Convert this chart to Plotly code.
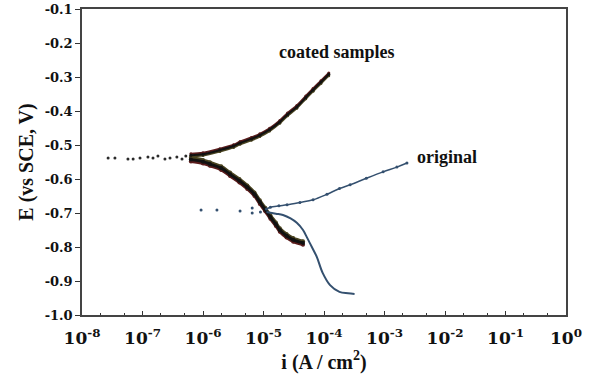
import plotly.graph_objects as go

# ---- data (current density A/cm2, potential V vs SCE) ----
coated_scatter_i = [2.7e-8, 3.5e-8, 5.75e-8, 7.0e-8, 9.1e-8, 1.23e-7, 1.49e-7, 1.8e-7,
                    2.35e-7, 2.85e-7, 3.7e-7, 4.5e-7, 5.2e-7]
coated_scatter_E = [-0.538, -0.538, -0.541, -0.541, -0.538, -0.535, -0.538, -0.532,
                    -0.541, -0.538, -0.535, -0.541, -0.532]

coated_anodic_i = [6.3e-7, 1.0e-6, 1.9e-6, 3.2e-6, 4.1e-6, 6.3e-6, 8.7e-6, 1.26e-5,
                   1.86e-5, 2.5e-5, 3.55e-5, 5.0e-5, 6.6e-5, 8.9e-5, 1.2e-4]
coated_anodic_E = [-0.530, -0.527, -0.515, -0.503, -0.494, -0.482, -0.471, -0.455,
                   -0.432, -0.410, -0.388, -0.360, -0.338, -0.315, -0.292]

coated_cathodic_i = [6.3e-7, 1.0e-6, 1.3e-6, 2.0e-6, 2.8e-6, 4.0e-6, 5.4e-6, 7.1e-6,
                     8.7e-6, 1.07e-5, 1.3e-5, 1.6e-5, 1.86e-5, 2.4e-5, 3.1e-5, 4.5e-5]
coated_cathodic_E = [-0.543, -0.549, -0.556, -0.568, -0.586, -0.605, -0.624, -0.645,
                     -0.668, -0.690, -0.712, -0.733, -0.750, -0.767, -0.779, -0.788]

orig_scatter_i = [9.3e-7, 1.7e-6, 4.1e-6, 6.5e-6, 6.5e-6, 8.9e-6]
orig_scatter_E = [-0.691, -0.691, -0.694, -0.685, -0.700, -0.697]

orig_anodic_i = [1.12e-5, 1.3e-5, 1.8e-5, 2.45e-5, 4.0e-5, 6.6e-5, 1.12e-4, 1.8e-4,
                 2.7e-4, 5.0e-4, 9.5e-4, 1.6e-3, 2.35e-3]
orig_anodic_E = [-0.688, -0.683, -0.679, -0.676, -0.669, -0.661, -0.645, -0.628,
                 -0.617, -0.598, -0.579, -0.565, -0.553]

orig_cathodic_i = [1.12e-5, 1.6e-5, 2.1e-5, 2.8e-5, 3.55e-5, 4.5e-5, 5.2e-5, 6.3e-5,
                   7.6e-5, 9.5e-5, 1.26e-4, 1.8e-4, 2.5e-4, 3.2e-4]
orig_cathodic_E = [-0.697, -0.702, -0.706, -0.716, -0.729, -0.750, -0.771, -0.800,
                   -0.829, -0.876, -0.912, -0.932, -0.936, -0.938]

x_tick_vals = [1e-8, 1e-7, 1e-6, 1e-5, 1e-4, 1e-3, 1e-2, 1e-1, 1e0]
x_tick_text = ["<b>10<sup>-8</sup></b>", "<b>10<sup>-7</sup></b>", "<b>10<sup>-6</sup></b>",
               "<b>10<sup>-5</sup></b>", "<b>10<sup>-4</sup></b>", "<b>10<sup>-3</sup></b>",
               "<b>10<sup>-2</sup></b>", "<b>10<sup>-1</sup></b>", "<b>10<sup>0</sup></b>"]
y_tick_vals = [-0.1, -0.2, -0.3, -0.4, -0.5, -0.6, -0.7, -0.8, -0.9, -1.0]
y_tick_text = ["<b>-0.1</b>", "<b>-0.2</b>", "<b>-0.3</b>", "<b>-0.4</b>", "<b>-0.5</b>",
               "<b>-0.6</b>", "<b>-0.7</b>", "<b>-0.8</b>", "<b>-0.9</b>", "<b>-1.0</b>"]

coated_colors = ["#4a4420", "#5a1c1c", "#111111"]
coated_shift = [-0.004, 0.004, 0.0]
orig_color = "#34506f"
FONT = "Liberation Serif, Times New Roman, Times, serif"
TICKFONT = "DejaVu Serif, serif"

fig = go.Figure()

for c, s in zip(coated_colors, coated_shift):
    fig.add_trace(go.Scatter(
        x=coated_anodic_i, y=[e + s for e in coated_anodic_E], mode="lines+markers",
        line=dict(color=c, width=2, shape="spline"), marker=dict(size=3, color=c),
        showlegend=False, hoverinfo="skip"))
    fig.add_trace(go.Scatter(
        x=coated_cathodic_i, y=[e - 1.3 * s for e in coated_cathodic_E], mode="lines+markers",
        line=dict(color=c, width=3, shape="spline"), marker=dict(size=4, color=c),
        showlegend=False, hoverinfo="skip"))

fig.add_trace(go.Scatter(
    x=coated_scatter_i, y=coated_scatter_E, mode="markers",
    marker=dict(size=3, color="#2a2a2a"), showlegend=False, hoverinfo="skip"))

fig.add_trace(go.Scatter(
    x=orig_scatter_i, y=orig_scatter_E, mode="markers",
    marker=dict(size=3, color=orig_color), showlegend=False, hoverinfo="skip"))
fig.add_trace(go.Scatter(
    x=orig_anodic_i, y=orig_anodic_E, mode="lines+markers",
    line=dict(color=orig_color, width=1.5, shape="spline"), marker=dict(size=3, color=orig_color),
    showlegend=False, hoverinfo="skip"))
fig.add_trace(go.Scatter(
    x=orig_cathodic_i, y=orig_cathodic_E, mode="lines",
    line=dict(color=orig_color, width=2, shape="spline"),
    showlegend=False, hoverinfo="skip"))

fig.add_annotation(x=-3.79, y=-0.226, xref="x", yref="y", text="<b>coated samples</b>",
                   showarrow=False, font=dict(family=FONT, size=18, color="#111"))
fig.add_annotation(x=-2.50, y=-0.535, xref="x", yref="y", text="<b>original</b>",
                   showarrow=False, xanchor="left", font=dict(family=FONT, size=18, color="#111"))

fig.update_layout(
    width=592, height=378,
    margin=dict(l=82, r=26, t=9, b=63),
    paper_bgcolor="white", plot_bgcolor="white",
    font=dict(family=FONT, color="#111"),
    xaxis=dict(
        type="log", range=[-8, 0], tickvals=x_tick_vals, ticktext=x_tick_text,
        automargin=False, ticklabelstandoff=7,
        showline=True, linecolor="#444", linewidth=1.5, mirror=True,
        ticks="inside", ticklen=4, tickcolor="#333", showgrid=False, zeroline=False,
        tickfont=dict(family=TICKFONT, size=17, color="#111"),
        minor=dict(ticks="inside", ticklen=2, tickcolor="#333", showgrid=False),
        title=dict(text="<b>i (A / cm<sup>2</sup>)</b>", font=dict(family=FONT, size=20), standoff=4),
    ),
    yaxis=dict(
        range=[-1.0, -0.1], tickvals=y_tick_vals, ticktext=y_tick_text,
        automargin=False,
        showline=True, linecolor="#444", linewidth=1.5, mirror=True,
        ticks="outside", ticklen=5, tickcolor="#333", showgrid=False, zeroline=False,
        tickfont=dict(family=TICKFONT, size=13, color="#111"),
        title=dict(text="<b>E (vs SCE, V)</b>", font=dict(family=FONT, size=20), standoff=6),
    ),
)

fig.write_html("out.html", config={"displayModeBar": False},
               post_script="document.body.style.margin='0';")
